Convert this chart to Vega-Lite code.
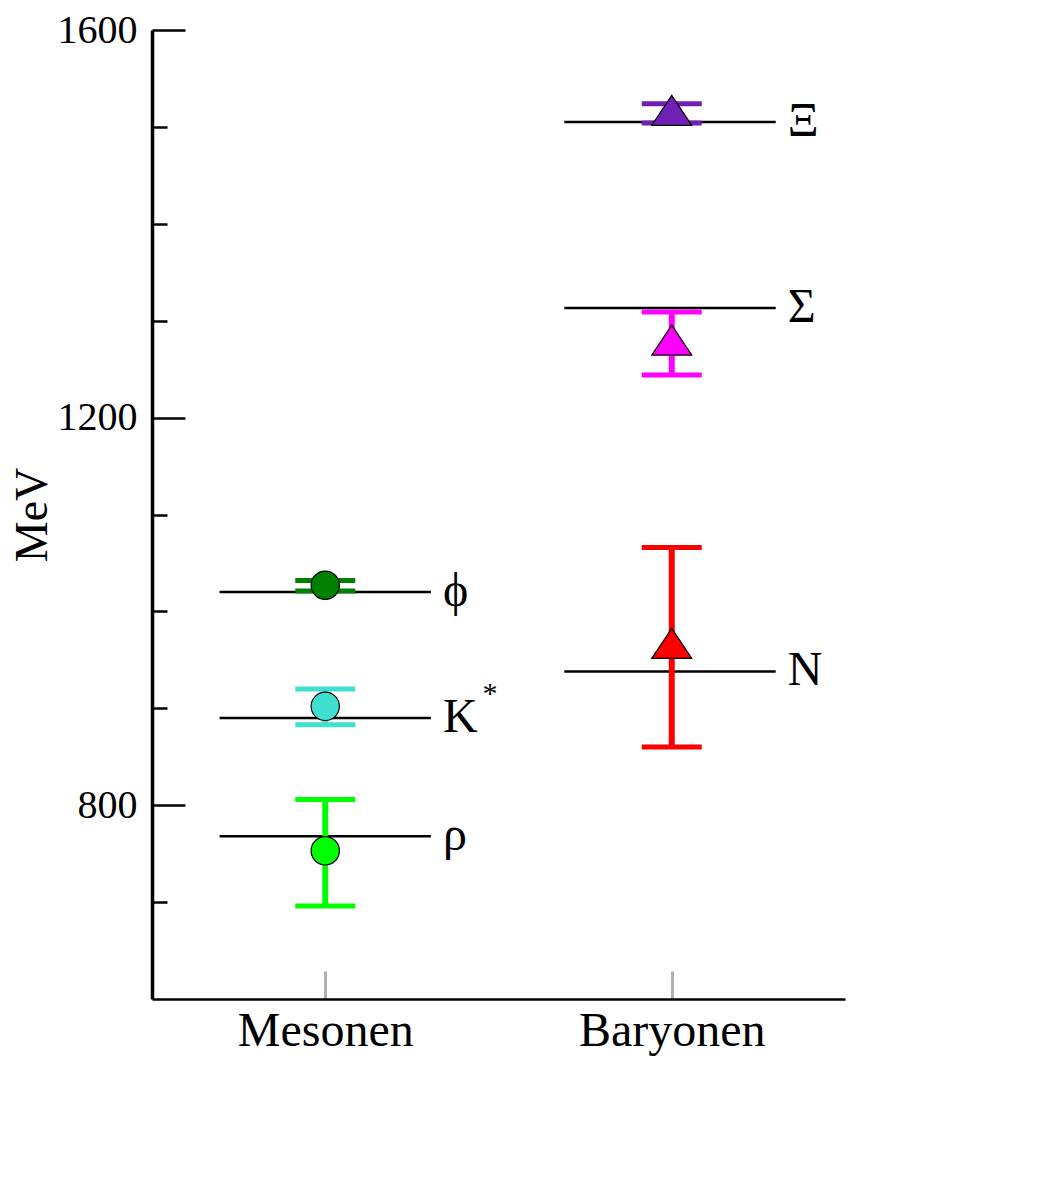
{
  "$schema": "https://vega.github.io/schema/vega-lite/v6.json",
  "autosize": {"type": "none"},
  "padding": {"left": 152, "top": 30, "right": 207, "bottom": 205},
  "width": 693,
  "height": 969,
  "background": "white",
  "config": {"view": {"stroke": null}, "font": "Liberation Serif"},
  "data": {"values": [
    {"name": "phi", "label": "\u03D5", "group": "Mesonen", "xc": 1, "x0": 0.39, "x1": 1.61, "lx": 1.68, "mass": 1020, "value": 1027, "lower": 1021, "upper": 1032},
    {"name": "Kstar", "label": "K", "group": "Mesonen", "xc": 1, "x0": 0.39, "x1": 1.61, "lx": 1.68, "mass": 890, "value": 902, "lower": 883, "upper": 920},
    {"name": "rho", "label": "\u03C1", "group": "Mesonen", "xc": 1, "x0": 0.39, "x1": 1.61, "lx": 1.68, "mass": 768, "value": 753, "lower": 696, "upper": 806},
    {"name": "Xi", "label": "\u039E", "group": "Baryonen", "xc": 3, "x0": 2.38, "x1": 3.6, "lx": 3.67, "mass": 1505, "value": 1517, "lower": 1504, "upper": 1524},
    {"name": "Sigma", "label": "\u03A3", "group": "Baryonen", "xc": 3, "x0": 2.38, "x1": 3.6, "lx": 3.67, "mass": 1313, "value": 1280, "lower": 1244, "upper": 1309},
    {"name": "N", "label": "N", "group": "Baryonen", "xc": 3, "x0": 2.38, "x1": 3.6, "lx": 3.67, "mass": 938, "value": 967, "lower": 860, "upper": 1066}
  ]},
  "encoding": {
    "color": {"field": "name", "type": "nominal", "legend": null,
      "scale": {"domain": ["phi", "Kstar", "rho", "Xi", "Sigma", "N"],
                "range": ["#008000", "#40e0d0", "#00ff00", "#7020b4", "#ff00ff", "#ff0000"]}}
  },
  "layer": [
    {
      "mark": {"type": "rule", "color": "black", "strokeWidth": 2.5},
      "encoding": {
        "x": {"field": "x0", "type": "quantitative", "scale": {"domain": [0, 4], "nice": false},
          "axis": {"values": [1, 3], "labelExpr": "datum.value == 1 ? 'Mesonen' : 'Baryonen'",
            "title": null, "grid": false, "tickSize": -28, "tickColor": "#b0b0b0", "tickWidth": 3,
            "domainColor": "black", "domainWidth": 2.5, "labelFontSize": 48, "labelColor": "black",
            "labelPadding": 36, "labelLimit": 400, "labelFont": "Liberation Serif"}},
        "x2": {"field": "x1"},
        "y": {"field": "mass", "type": "quantitative", "scale": {"domain": [600, 1600], "nice": false, "zero": false},
          "axis": {"values": [700, 800, 900, 1000, 1100, 1200, 1300, 1400, 1500, 1600],
            "labelExpr": "datum.value % 400 === 0 ? datum.label : ''",
            "title": "MeV", "titleFontSize": 46, "titleFontWeight": "normal", "titleFont": "Liberation Serif",
            "titleColor": "black", "titlePadding": 1,
            "grid": false, "format": "d",
            "tickSize": {"condition": {"test": "datum.value % 400 === 0", "value": -33}, "value": -15},
            "tickColor": "black", "tickWidth": 2.5,
            "domainColor": "black", "domainWidth": 3.5, "labelFontSize": 40, "labelColor": "black",
            "labelPadding": 48, "labelFont": "Liberation Serif"}},
        "color": {"value": "black"}
      }
    },
    {
      "mark": {"type": "rule", "strokeWidth": 6, "opacity": 1},
      "encoding": {
        "x": {"field": "xc", "type": "quantitative"},
        "y": {"field": "lower", "type": "quantitative"},
        "y2": {"field": "upper"}
      }
    },
    {
      "mark": {"type": "tick", "orient": "horizontal", "size": 60, "thickness": 5, "opacity": 1},
      "encoding": {
        "x": {"field": "xc", "type": "quantitative"},
        "y": {"field": "lower", "type": "quantitative"}
      }
    },
    {
      "mark": {"type": "tick", "orient": "horizontal", "size": 60, "thickness": 5, "opacity": 1},
      "encoding": {
        "x": {"field": "xc", "type": "quantitative"},
        "y": {"field": "upper", "type": "quantitative"}
      }
    },
    {
      "transform": [{"filter": "datum.group === 'Mesonen'"}],
      "mark": {"type": "point", "shape": "circle", "filled": true, "size": 800, "stroke": "black", "strokeWidth": 1.2, "opacity": 1},
      "encoding": {
        "x": {"field": "xc", "type": "quantitative"},
        "y": {"field": "value", "type": "quantitative"}
      }
    },
    {
      "transform": [{"filter": "datum.group === 'Baryonen'"}],
      "mark": {"type": "point", "shape": "M-1,0.75L1,0.75L0,-0.75Z", "filled": true, "size": 1600, "stroke": "black", "strokeWidth": 1.2, "opacity": 1},
      "encoding": {
        "x": {"field": "xc", "type": "quantitative"},
        "y": {"field": "value", "type": "quantitative"}
      }
    },
    {
      "mark": {"type": "text", "align": "left", "baseline": "middle", "fontSize": 48, "font": "Liberation Serif"},
      "encoding": {
        "x": {"field": "lx", "type": "quantitative"},
        "y": {"field": "mass", "type": "quantitative"},
        "text": {"field": "label"},
        "color": {"value": "black"}
      }
    },
    {
      "transform": [{"filter": "datum.name === 'Kstar'"}],
      "mark": {"type": "text", "align": "center", "baseline": "middle", "fontSize": 30, "font": "Liberation Serif", "dx": 47, "dy": -24},
      "encoding": {
        "x": {"field": "lx", "type": "quantitative"},
        "y": {"field": "mass", "type": "quantitative"},
        "text": {"value": "*"},
        "color": {"value": "black"}
      }
    }
  ]
}
